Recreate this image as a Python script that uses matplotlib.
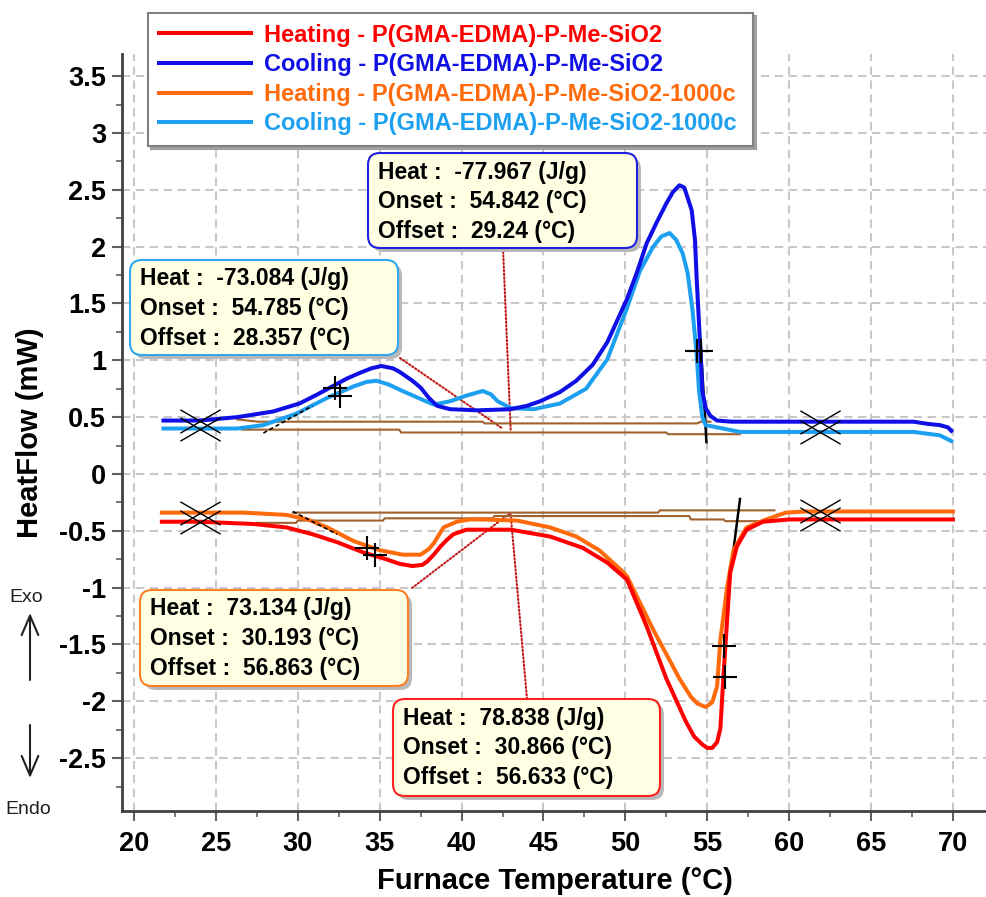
import numpy as np
import matplotlib
matplotlib.use('Agg')
import matplotlib.pyplot as plt
from matplotlib.patches import FancyBboxPatch
from matplotlib.path import Path

plt.rcParams['font.family'] = ['Liberation Sans', 'DejaVu Sans']
plt.rcParams['axes.unicode_minus'] = False
plt.rcParams['lines.scale_dashes'] = False

# ---- curves ----
cool_x = [21.8, 24.0, 26.3, 28.5, 30.1, 31.2, 32.1, 33.0, 33.8, 34.5, 35.1, 35.8, 36.2,
          37.0, 37.5, 38.0, 38.5, 39.3, 41.0, 43.0, 44.0, 44.8, 46.0, 47.0, 48.0, 48.9,
          50.1, 50.7, 51.3, 51.9, 52.5, 52.9, 53.3, 53.6, 54.05, 54.25, 54.35, 54.55, 54.7,
          54.9, 55.2, 55.6, 56.5, 60.0, 67.6, 68.5, 69.2, 69.7, 69.9]
cool_y = [0.47, 0.47, 0.50, 0.55, 0.62, 0.70, 0.77, 0.84, 0.89, 0.93, 0.95, 0.93, 0.90,
          0.82, 0.76, 0.67, 0.60, 0.57, 0.56, 0.57, 0.60, 0.64, 0.72, 0.82, 0.96, 1.16,
          1.54, 1.77, 2.03, 2.21, 2.38, 2.48, 2.54, 2.52, 2.32, 2.06, 1.73, 1.18, 0.73,
          0.58, 0.51, 0.47, 0.46, 0.46, 0.46, 0.44, 0.43, 0.41, 0.38]

cool2_x = [21.8, 24.0, 26.3, 27.9, 29.9, 31.8, 33.4, 34.2, 34.8, 35.5, 36.4, 37.5, 38.3,
           39.3, 40.3, 41.3, 41.8, 42.2, 43.0, 44.4, 46.0, 47.6, 48.0, 48.9, 50.1, 50.9,
           51.7, 52.2, 52.7, 53.1, 53.5, 53.8, 54.1, 54.35, 54.5, 54.7, 54.9, 57.0, 67.6,
           69.2, 69.9]
cool2_y = [0.40, 0.40, 0.40, 0.43, 0.53, 0.67, 0.77, 0.81, 0.82, 0.79, 0.73, 0.66, 0.61,
           0.64, 0.69, 0.73, 0.70, 0.64, 0.58, 0.57, 0.62, 0.75, 0.83, 1.01, 1.46, 1.79,
           2.00, 2.09, 2.12, 2.06, 1.94, 1.77, 1.44, 1.06, 0.73, 0.50, 0.43, 0.37, 0.37,
           0.34, 0.29]

heat_x = [21.7, 24.0, 27.3, 29.3, 30.9, 32.4, 34.0, 35.4, 36.2, 37.0, 37.6, 37.9, 38.3,
          38.7, 39.1, 39.5, 40.3, 43.0, 45.4, 47.4, 48.9, 50.1, 51.3, 52.5, 53.7, 54.2,
          54.7, 55.0, 55.3, 55.6, 55.8, 56.0, 56.2, 56.4, 56.8, 57.4, 58.4, 60.0, 70.0]
heat_y = [-0.42, -0.42, -0.44, -0.47, -0.53, -0.60, -0.69, -0.75, -0.79, -0.81, -0.80, -0.77, -0.71,
          -0.64, -0.58, -0.53, -0.49, -0.49, -0.55, -0.65, -0.78, -0.93, -1.34, -1.80, -2.18, -2.31,
          -2.38, -2.41, -2.41, -2.36, -2.24, -1.75, -1.31, -0.87, -0.64, -0.49, -0.42, -0.40, -0.40]

heat2_x = [21.7, 26.7, 29.3, 30.6, 31.8, 33.4, 35.0, 36.4, 37.5, 38.0, 38.3, 38.6, 38.9,
           39.7, 40.5, 41.3, 43.4, 45.4, 47.0, 48.4, 49.7, 50.1, 51.7, 53.3, 54.0, 54.4,
           54.9, 55.3, 55.6, 55.8, 56.2, 56.6, 57.4, 58.6, 59.8, 61.0, 70.0]
heat2_y = [-0.34, -0.34, -0.36, -0.40, -0.47, -0.59, -0.67, -0.71, -0.71, -0.66, -0.61, -0.54, -0.47,
           -0.42, -0.40, -0.40, -0.41, -0.47, -0.55, -0.67, -0.84, -0.90, -1.37, -1.80, -1.96, -2.02,
           -2.05, -2.01, -1.87, -1.46, -1.01, -0.67, -0.47, -0.40, -0.34, -0.33, -0.33]

# integration baselines
cb1_x = [26.3, 27.6, 41.3, 41.4, 54.4, 54.6, 55.2]
cb1_y = [0.48, 0.46, 0.46, 0.445, 0.445, 0.46, 0.46]
cb2_x = [26.6, 36.2, 36.3, 52.5, 52.6, 57.0]
cb2_y = [0.39, 0.39, 0.365, 0.365, 0.35, 0.35]
hb1_x = [29.7, 52.0, 52.1, 59.1]
hb1_y = [-0.34, -0.34, -0.32, -0.32]
hb2_x = [27.5, 29.9, 30.0, 35.2, 35.3, 41.9, 42.0, 53.9, 54.0, 56.0, 56.1, 58.4]
hb2_y = [-0.43, -0.43, -0.41, -0.41, -0.39, -0.39, -0.37, -0.37, -0.40, -0.40, -0.415, -0.415]

# tangents
tan_dash = [((27.9, 30.9), (0.36, 0.60)), ((29.7, 32.4), (-0.33, -0.53))]
tan_solid = [((54.95, 54.6), (0.28, 1.15)), ((56.5, 57.0), (-0.78, -0.22))]

# limit (X) and onset/offset (+) markers
lim_x = [24.0, 24.0, 61.9, 61.9, 24.0, 24.0, 61.9, 61.9]
lim_y = [0.47, 0.40, 0.46, 0.37, -0.34, -0.42, -0.33, -0.40]
ons_x = [32.3, 32.6, 54.4, 54.6, 34.2, 34.7, 56.0, 56.1]
ons_y = [0.76, 0.69, 1.08, 1.08, -0.65, -0.71, -1.51, -1.79]

labels = ['Heating - P(GMA-EDMA)-P-Me-SiO2', 'Cooling - P(GMA-EDMA)-P-Me-SiO2',
          'Heating - P(GMA-EDMA)-P-Me-SiO2-1000c', 'Cooling - P(GMA-EDMA)-P-Me-SiO2-1000c']
colors = ['#ff0000', '#1010e6', '#ff6a0a', '#1ea0f0']

# result boxes
box_text = [
    ['Heat :  -77.967 (J/g)', 'Onset :  54.842 (°C)', 'Offset :  29.24 (°C)'],
    ['Heat :  -73.084 (J/g)', 'Onset :  54.785 (°C)', 'Offset :  28.357 (°C)'],
    ['Heat :  73.134 (J/g)', 'Onset :  30.193 (°C)', 'Offset :  56.863 (°C)'],
    ['Heat :  78.838 (J/g)', 'Onset :  30.866 (°C)', 'Offset :  56.633 (°C)'],
]
box_edge = ['#2020e0', '#30a8f0', '#ff7f27', '#ff2020']
leader_end_x = [43.0, 42.5, 43.0, 43.0]
leader_end_y = [0.38, 0.40, -0.34, -0.36]

W, H = 987, 897
fig = plt.figure(figsize=(W / 100, H / 100), dpi=100)
ax = fig.add_axes([122 / W, 1 - 811 / H, (W - 122) / W, (811 - 54) / H])

lw = 2.9
l1, = ax.plot(heat_x, heat_y, color=colors[0], lw=lw, zorder=4, label=labels[0])
l2, = ax.plot(cool_x, cool_y, color=colors[1], lw=lw, zorder=4, label=labels[1])
l3, = ax.plot(heat2_x, heat2_y, color=colors[2], lw=lw, zorder=3, label=labels[2])
l4, = ax.plot(cool2_x, cool2_y, color=colors[3], lw=lw, zorder=3, label=labels[3])

brown = '#a0622d'
for bx, by in [(cb1_x, cb1_y), (cb2_x, cb2_y), (hb1_x, hb1_y), (hb2_x, hb2_y)]:
    ax.plot(bx, by, color=brown, lw=1.5, zorder=2)

for tx, ty in tan_dash:
    ax.plot(tx, ty, color='black', lw=1.2, ls=(0, (3, 2)), zorder=5)
for tx, ty in tan_solid:
    ax.plot(tx, ty, color='black', lw=1.8, zorder=2)

xmark = Path([(-1, -0.58), (1, 0.58), (-1, 0.58), (1, -0.58)],
             [Path.MOVETO, Path.LINETO, Path.MOVETO, Path.LINETO])
ax.plot(lim_x, lim_y, ls='none', marker=xmark, markersize=29, markeredgecolor='black',
        markeredgewidth=1.0, zorder=6)
ax.plot(ons_x, ons_y, ls='none', marker='+', markersize=17, markeredgecolor='black',
        markeredgewidth=1.5, zorder=6)

# leader lines
box_px = [(368, 153, 637, 248), (130, 260, 398, 355), (140, 590, 408, 686), (393, 699, 660, 796)]
leader_px = [(503, 248), (400, 358), (412, 588), (527, 699)]
for i in range(4):
    ax.annotate('', xy=(leader_end_x[i], leader_end_y[i]), xycoords='data',
                xytext=(leader_px[i][0] / W, 1 - leader_px[i][1] / H), textcoords='figure fraction',
                arrowprops=dict(arrowstyle='-', linestyle=':', color='#c01818', lw=1.5,
                                shrinkA=0, shrinkB=0), zorder=1)

ax.set_xlim(19.267, 72.08)
ax.set_ylim(-2.965, 3.695)
ax.set_xticks(np.arange(20, 71, 5))
ax.set_xticks(np.arange(22.5, 72, 5), minor=True)
ax.set_yticks(np.arange(-2.5, 3.6, 0.5))
ax.set_yticks(np.arange(-2.75, 3.7, 0.5), minor=True)
ax.set_xticklabels(['{:g}'.format(v) for v in np.arange(20, 71, 5)])
ax.set_yticklabels(['{:g}'.format(round(v, 2)) for v in np.arange(-2.5, 3.6, 0.5)])
ax.grid(True, which='major', color='#c8c8c8', lw=1.5, ls=(0, (6, 4)))
ax.set_axisbelow(True)
for s in ['top', 'right']:
    ax.spines[s].set_visible(False)
for s in ['left', 'bottom']:
    ax.spines[s].set_color('#404040')
    ax.spines[s].set_linewidth(2)
ax.tick_params(which='major', length=7.5, width=1.5, color='#606060', labelsize=19.5)
ax.tick_params(which='minor', length=4, width=1.2, color='#606060')
ax.tick_params(axis='y', pad=4)
ax.tick_params(axis='x', pad=7)
for t in ax.get_xticklabels() + ax.get_yticklabels():
    t.set_fontweight('bold')

ax.set_xlabel('Furnace Temperature (°C)', fontsize=21, fontweight='bold', labelpad=7)
fig.text(30 / W, 1 - 433 / H, 'HeatFlow (mW)', rotation=90, fontsize=21, fontweight='bold',
         ha='center', va='center')

# Exo / Endo
fig.text(26 / W, 1 - 598 / H, 'Exo', fontsize=14, ha='center', va='center', color='#202020')
fig.text(28 / W, 1 - 810 / H, 'Endo', fontsize=14, ha='center', va='center', color='#202020')
arr = dict(arrowstyle='->,head_length=0.7,head_width=0.3', color='#202020', lw=1.5,
           shrinkA=0, shrinkB=0, mutation_scale=20)
ax.annotate('', xy=(30 / W, 1 - 613 / H), xytext=(30 / W, 1 - 680 / H),
            xycoords='figure fraction', textcoords='figure fraction', arrowprops=arr)
ax.annotate('', xy=(30 / W, 1 - 778 / H), xytext=(30 / W, 1 - 725 / H),
            xycoords='figure fraction', textcoords='figure fraction', arrowprops=arr)

# legend
leg = ax.legend(handles=[l1, l2, l3, l4], loc='upper left', mode='expand',
                bbox_to_anchor=(148 / W, 1 - 145 / H, (753 - 148) / W, (145 - 13) / H),
                bbox_transform=fig.transFigure,
                borderaxespad=0, fancybox=False, frameon=True, edgecolor='#808080',
                framealpha=1, labelcolor='linecolor', handlelength=3.9, handletextpad=0.55,
                borderpad=0.45, labelspacing=0.28,
                prop={'size': 17, 'weight': 'bold'},
                shadow={'color': '#a0a0a0', 'alpha': 1})
leg.get_frame().set_linewidth(1.5)
leg.set_zorder(20)

# result boxes
for i in range(4):
    x0, y0, x1, y1 = box_px[i]
    for off, fc, ec in [(4, '#b8b8b8', 'none'), (0, '#ffffe4', box_edge[i])]:
        p = FancyBboxPatch(((x0 + off) / W, 1 - (y1 + off) / H), (x1 - x0) / W, (y1 - y0) / H,
                           boxstyle='round,pad=0,rounding_size={}'.format(12 / W),
                           mutation_aspect=W / H, transform=fig.transFigure,
                           facecolor=fc, edgecolor=ec, lw=1.5, zorder=8)
        fig.add_artist(p)
    for j, line in enumerate(box_text[i]):
        fig.text((x0 + 10) / W, 1 - (y0 + 19 + 29.5 * j) / H, line, fontsize=16.5,
                 fontweight='bold', ha='left', va='center', color='black', zorder=9)

fig.savefig('out.png', dpi=100)
